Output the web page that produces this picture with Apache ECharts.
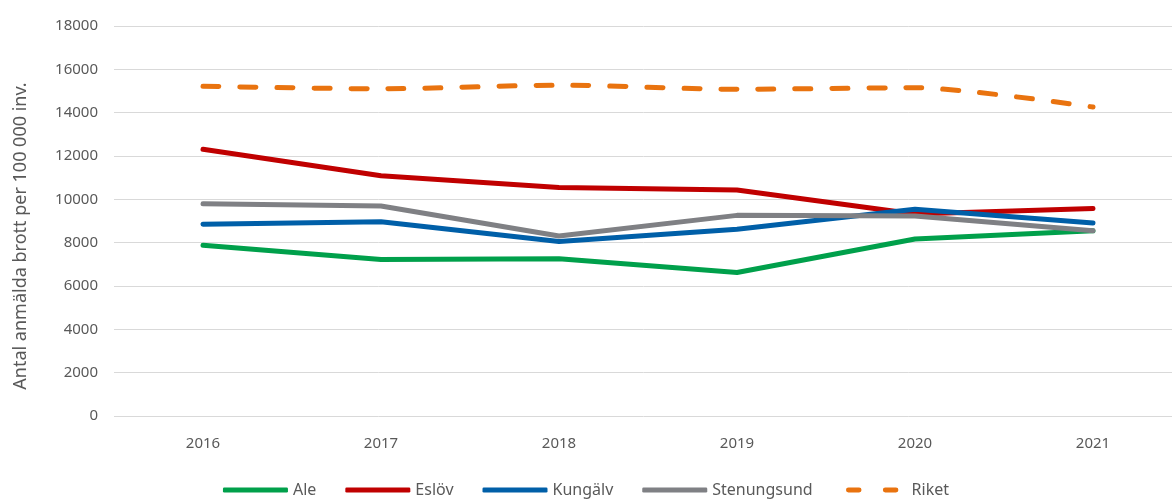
<!DOCTYPE html>
<html>
<head>
<meta charset="utf-8">
<script src="https://cdn.jsdelivr.net/npm/echarts@6/dist/echarts.min.js"></script>
<style>
  html, body { margin: 0; padding: 0; background: #fff; }
  #main { width: 1172px; height: 500px; }
</style>
</head>
<body>
<div id="main"></div>
<script>
var years = ['2016', '2017', '2018', '2019', '2020', '2021'];
var ale = [7880, 7220, 7260, 6620, 8170, 8550];
var eslov = [12310, 11090, 10550, 10430, 9320, 9580];
var kungalv = [8850, 8970, 8050, 8620, 9540, 8910];
var stenungsund = [9800, 9690, 8310, 9260, 9230, 8550];
var riket = [15220, 15100, 15270, 15080, 15150, 14260];

var myChart = echarts.init(document.getElementById('main'));
var font = '"Noto Sans", sans-serif';

function line(name, data, color, dashed) {
  return {
    name: name,
    type: 'line',
    data: data,
    symbol: 'none',
    smooth: dashed ? 0.25 : false,
    lineStyle: {
      color: color,
      width: 5,
      type: dashed ? [16, 21] : 'solid',
      cap: 'round'
    },
    itemStyle: { color: color }
  };
}

// two short dashes for the Riket legend icon (degenerate points keep the full width)
var dashIcon = 'path://M0,0 L0,0 M67,5 L67,5 ' +
  'M7,0 H18 A2.5,2.5 0 0 1 18,5 H7 A2.5,2.5 0 0 1 7,0 Z ' +
  'M45,0 H56 A2.5,2.5 0 0 1 56,5 H45 A2.5,2.5 0 0 1 45,0 Z';

myChart.setOption({
  animation: false,
  textStyle: { fontFamily: font },
  grid: { left: 114, width: 1068, top: 26, bottom: 84, outerBoundsMode: 'none' },
  legend: {
    bottom: -3,
    left: 'center',
    itemWidth: 65,
    itemHeight: 5,
    itemGap: 29,
    textStyle: { fontFamily: font, fontSize: 16, color: '#595959' },
    data: [
      { name: 'Ale', icon: 'roundRect' },
      { name: 'Eslöv', icon: 'roundRect' },
      { name: 'Kungälv', icon: 'roundRect' },
      { name: 'Stenungsund', icon: 'roundRect' },
      { name: 'Riket', icon: dashIcon }
    ]
  },
  xAxis: {
    type: 'category',
    data: years,
    boundaryGap: true,
    axisLine: { show: false },
    axisTick: { show: false },
    axisLabel: { fontSize: 15, color: '#595959', margin: 20 }
  },
  yAxis: {
    type: 'value',
    min: 0,
    max: 18000,
    interval: 2000,
    name: 'Antal anmälda brott per 100 000 inv.',
    nameLocation: 'middle',
    nameGap: 84,
    nameMoveOverlap: false,
    nameTextStyle: { fontSize: 18, color: '#595959', padding: [0, 30, 0, 0] },
    axisLabel: { fontSize: 15, color: '#595959', margin: 16, formatter: function (v) { return String(v); } },
    splitLine: { lineStyle: { color: '#D9D9D9', width: 1 } }
  },
  series: [
    line('Ale', ale, '#00A04B'),
    line('Eslöv', eslov, '#C00000'),
    line('Kungälv', kungalv, '#005FA8'),
    line('Stenungsund', stenungsund, '#7F8084'),
    line('Riket', riket, '#E9730F', true)
  ]
});
</script>
</body>
</html>
